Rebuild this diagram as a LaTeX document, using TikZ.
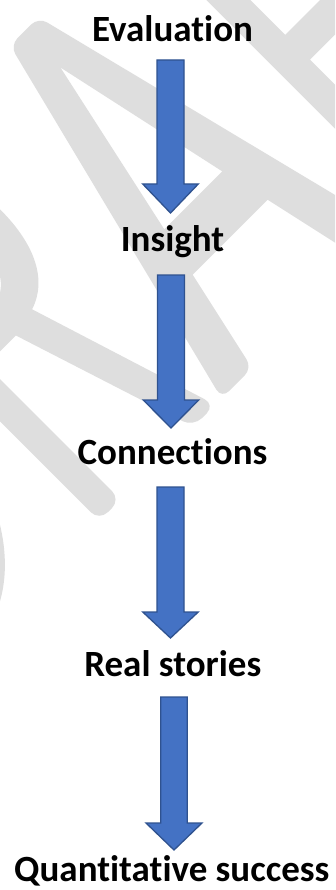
\documentclass[tikz,border=0pt]{standalone}
\usepackage{fontspec}
\setmainfont[Ligatures=NoCommon]{Carlito}
\definecolor{wm}{RGB}{222,222,222}
\definecolor{arrfill}{RGB}{68,114,196}
\definecolor{arrline}{RGB}{47,82,143}
\newcommand{\blockarrow}[6]{% cx, ytop, yhead, ytip, shaft half, head half
  \draw[blk] (#1-#5,#2) -- (#1+#5,#2) -- (#1+#5,#3) -- (#1+#6,#3) -- (#1,#4)
     -- (#1-#6,#3) -- (#1-#5,#3) -- cycle;}
\begin{document}
\begin{tikzpicture}[x=1pt,y=-1pt,
  lbl/.style={font=\fontsize{37}{44}\selectfont\bfseries, inner sep=0pt, anchor=base},
  blk/.style={fill=arrfill, draw=arrline, line width=1.3pt, line join=miter},
  wmk/.style={fill=wm}]
\useasboundingbox (0,0) rectangle (335,890);
\fill[white] (0,0) rectangle (335,890);
% watermark "DRAFT"
\begin{scope}
\clip (0,0) rectangle (335,890);
\begin{scope}[shift={(310pt,-310pt)}, rotate=45, x=1pt, y=1pt]
  % D
  \fill[wmk, even odd rule] (-540,0) -- (-475,0)
     arc[start angle=-90, end angle=90, x radius=138.7, y radius=199.5]
     -- (-540,399) -- cycle
     (-505,35) -- (-475,35)
     arc[start angle=-90, end angle=90, x radius=103.7, y radius=164.5]
     -- (-505,364) -- cycle;
  % R
  \fill[wmk, even odd rule]
     (-298,0) [rounded corners=8pt] -- (-298,399) -- (-225,399) [sharp corners]
     .. controls (-170,399) and (-148,360) .. (-148,290)
     .. controls (-148,240) and (-165,207) .. (-196,197)
     [rounded corners=12pt] -- (-134,0) -- (-165,0) [sharp corners]
     -- (-226,190) -- (-268,190) [rounded corners=12pt] -- (-268,0) -- cycle
     [sharp corners]
     (-268,225) -- (-268,365) -- (-225,365)
     .. controls (-195,365) and (-183,345) .. (-183,295)
     .. controls (-183,250) and (-200,225) .. (-230,225) -- cycle;
  % A
  \fill[wmk, even odd rule]
     (-125,0) [rounded corners=10pt] -- (-25,399) -- (15,399) -- (115,0) -- (72,0)
     [sharp corners] -- (48,108) -- (-58,108) [rounded corners=10pt] -- (-82,0) -- cycle
     [sharp corners]
     (-5,348) -- (36,160) -- (-46,160) -- cycle;
  % F
  \fill[wmk] (146,0) -- (146,399) -- (290,399) -- (290,364) -- (177,364)
     -- (177,212) -- (270,212) -- (270,177) -- (177,177) -- (177,0) -- cycle;
\end{scope}
\end{scope}
% labels
\node[lbl] (ev)    at (172.5,41.7)  {Evaluation};
\node[lbl] (ins)   at (172.5,251.7) {Insight};
\node[lbl] (con)   at (172.5,464.3) {Connections};
\node[lbl] (real)  at (172.8,676.7) {Real stories};
\node[lbl] (quant) at (171.8,881.7) {Quantitative success};
% block arrows
\blockarrow{170.5}{60}{184}{213}{13.5}{27.75}
\blockarrow{171}{275}{400}{428}{13.5}{27.75}
\blockarrow{170.5}{487}{612}{638}{13.5}{27.75}
\blockarrow{174}{697}{823}{850}{13.2}{28}
\end{tikzpicture}
\end{document}
